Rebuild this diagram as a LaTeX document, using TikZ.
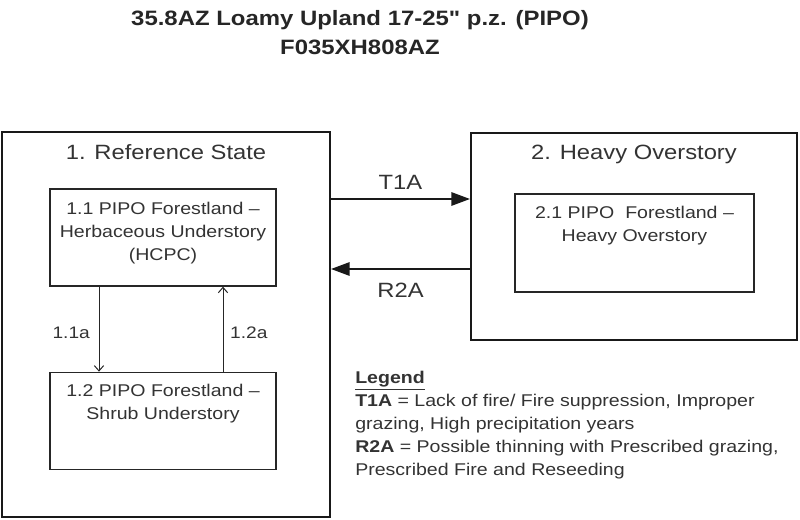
\documentclass[tikz,border=0pt]{standalone}
\usepackage{fontspec}
\setmainfont{Liberation Sans}[FakeStretch=1.15]
\newfontfamily\titlefont{Liberation Sans}[FakeStretch=1.15]
\usetikzlibrary{arrows.meta, positioning}

\begin{document}
\begin{tikzpicture}[x=0.75pt,y=-0.75pt,>={Triangle[length=14pt,width=10pt]},
	statebox/.style={draw=black!90, line width=1.5pt, inner sep=0pt},
	phasebox/.style={draw=black!85, line width=1pt, inner sep=0pt},
	heading/.style={inner sep=0pt, text=black!80, font=\fontsize{15.5}{18}\selectfont},
	phasetext/.style={inner sep=0pt, text=black!80, align=center, font=\fontsize{12.75}{17.25}\selectfont},
	transition/.style={->, line width=1.5pt, draw=black!90},
	pathway/.style={-{Straight Barb[length=4pt,width=7pt]}, line width=0.75pt, draw=black!85},
	pathlabel/.style={inner sep=0pt, text=black!80, font=\fontsize{12.5}{15}\selectfont}]
	
	\useasboundingbox (0,0) rectangle (800,519);
	
	\node (title) [align=center, text=black!85, font=\titlefont\fontsize{15.6}{21.75}\selectfont\bfseries] at (360,32.5)
		{35.8AZ Loamy Upland 17-25" p.z. (PIPO)\\F035XH808AZ};
	
	% state 1
	\node (s1) [statebox, minimum width=246pt, minimum height=288.75pt] at (166,324.5) {};
	\node (s1t) [heading, below=10pt of s1.north] {1. Reference State};
	\node (p11) [phasebox, minimum width=169.5pt, minimum height=72.75pt] at (163,237.5) {};
	\node (p11t) [phasetext, below=10.3pt of p11.north] {1.1 PIPO Forestland –\\Herbaceous Understory\\(HCPC)};
	\node (p12) [phasebox, minimum width=169.5pt, minimum height=72.75pt, below=63.75pt of p11] {};
	\node (p12t) [phasetext, below=9.5pt of p12.north] {1.2 PIPO Forestland –\\Shrub Understory};
	
	% state 2
	\node (s2) [statebox, minimum width=244.5pt, minimum height=155.25pt] at (634,236.5) {};
	\node (s2t) [heading, below=9.3pt of s2.north] {2. Heavy Overstory};
	\node (p21) [phasebox, minimum width=179.25pt, minimum height=73.5pt] at (634.5,243) {};
	\node (p21t) [phasetext, below=9.5pt of p21.north] {2.1 PIPO\ \ Forestland –\\Heavy Overstory};
	
	% transitions
	\path (s2.west) ++(0,-37.5) coordinate (t1a);
	\path (s2.west) ++(0,32.5) coordinate (r2a);
	\draw [transition] (s1.east |- t1a) -- node [heading, above=6.5pt] {T1A} (t1a);
	\draw [transition] (r2a) -- node [heading, below=9.5pt] {R2A} (s1.east |- r2a);
	
	% community pathways
	\draw [pathway] ([xshift=-48pt]p11.south) -- node [pathlabel, left=6.5pt, yshift=-2.6pt] {1.1a} ([xshift=-48pt]p12.north);
	\draw [pathway] ([xshift=45pt]p12.north) -- node [pathlabel, right=5pt, yshift=-2.6pt] {1.2a} ([xshift=45pt]p11.south);
	
	% legend
	\node (legend) [anchor=north west, inner sep=0pt, align=left, text=black!80, font=\fontsize{12.75}{17.25}\selectfont] at (355,371)
		{\underline{\textbf{Legend}}\\
		\textbf{T1A} = Lack of fire/ Fire suppression, Improper\\
		grazing, High precipitation years\\
		\textbf{R2A} = Possible thinning with Prescribed grazing,\\
		Prescribed Fire and Reseeding};
	
\end{tikzpicture}
\end{document}
